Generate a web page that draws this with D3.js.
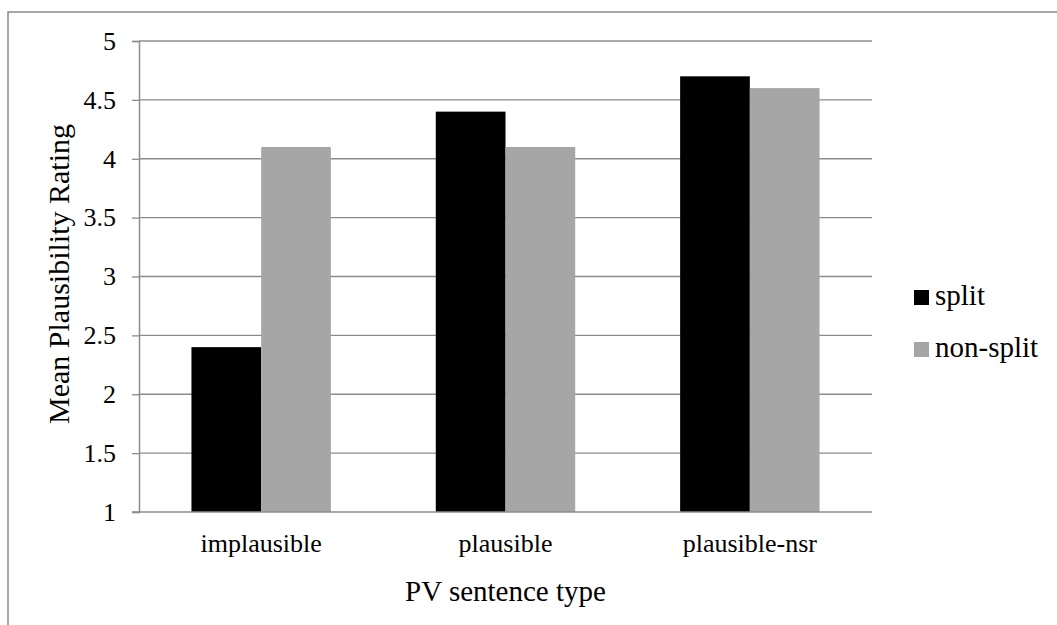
<!DOCTYPE html>
<html>
<head>
<meta charset="utf-8">
<script src="https://cdn.jsdelivr.net/npm/d3@7"></script>
<style>
  body { margin: 0; background: #fff; }
  text { font-family: "Liberation Serif", "Times New Roman", serif; fill: #000; }
</style>
</head>
<body>
<div id="chart-area"></div>
<script>
// data
var categories = ["implausible", "plausible", "plausible-nsr"];
var series = ["split", "non-split"];
var splitVals = [2.4, 4.4, 4.7];
var nonSplitVals = [4.1, 4.1, 4.6];
var yTicks = [1, 1.5, 2, 2.5, 3, 3.5, 4, 4.5, 5];
var colors = ["#000000", "#a6a6a6"];

var W = 1057, H = 625;
var plotL = 139, plotR = 872, plotT = 41, plotB = 512;

var svg = d3.select("#chart-area")
    .append("svg")
    .attr("width", W)
    .attr("height", H);

// outer chart border (runs off right and bottom edges)
svg.append("rect")
    .attr("x", 8)
    .attr("y", 12)
    .attr("width", W + 20)
    .attr("height", H + 20)
    .attr("fill", "none")
    .attr("stroke", "#8a8a8a")
    .attr("stroke-width", 1.5);

var data = categories.map(function (c, i) {
    return { cat: c, values: [splitVals[i], nonSplitVals[i]] };
});

var x0 = d3.scaleBand()
    .domain(categories)
    .range([plotL, plotR]);

var x1 = d3.scaleBand()
    .domain(series)
    .range([0, x0.bandwidth()])
    .paddingInner(0)
    .paddingOuter(0.7525);

var y = d3.scaleLinear()
    .domain([1, 5])
    .range([plotB, plotT]);

// gridlines
svg.append("g")
    .selectAll("line")
    .data(yTicks.slice(1))
    .enter()
    .append("line")
    .attr("x1", plotL)
    .attr("x2", plotR)
    .attr("y1", function (d) { return y(d); })
    .attr("y2", function (d) { return y(d); })
    .attr("stroke", "#8c8c8c")
    .attr("stroke-width", 1.3);

// bars
var groups = svg.append("g")
    .selectAll("g")
    .data(data)
    .enter()
    .append("g")
    .attr("transform", function (d) { return "translate(" + x0(d.cat) + ",0)"; });

groups.selectAll("rect")
    .data(function (d) { return d.values.map(function (v, i) { return { s: series[i], v: v, i: i }; }); })
    .enter()
    .append("rect")
    .attr("x", function (d) { return x1(d.s); })
    .attr("y", function (d) { return y(d.v); })
    .attr("width", x1.bandwidth())
    .attr("height", function (d) { return y(1) - y(d.v); })
    .attr("fill", function (d) { return colors[d.i]; });

// y axis
var leftAxis = d3.axisLeft(y)
    .tickValues(yTicks)
    .tickSize(7)
    .tickPadding(16)
    .tickFormat(d3.format(""));

var yG = svg.append("g")
    .attr("transform", "translate(" + plotL + ",0)")
    .call(leftAxis);
yG.select(".domain").attr("stroke", "#8c8c8c").attr("stroke-width", 1.5);
yG.selectAll(".tick line").attr("stroke", "#8c8c8c").attr("stroke-width", 1.3);
yG.selectAll("text")
    .attr("font-size", "26px")
    .attr("font-family", "Liberation Serif")
    .attr("fill", "#000");

// x axis
var bottomAxis = d3.axisBottom(x0)
    .tickSize(0)
    .tickPadding(22);

var xG = svg.append("g")
    .attr("transform", "translate(0," + plotB + ")")
    .call(bottomAxis);
xG.select(".domain").remove();
xG.append("line")
    .attr("x1", plotL - 7)
    .attr("x2", plotR)
    .attr("stroke", "#8c8c8c")
    .attr("stroke-width", 1.5);
xG.selectAll("text")
    .attr("font-size", "26px")
    .attr("font-family", "Liberation Serif")
    .attr("fill", "#000");

// axis titles
svg.append("text")
    .attr("x", (plotL + plotR) / 2)
    .attr("y", 601)
    .attr("font-size", "29px")
    .attr("text-anchor", "middle")
    .text("PV sentence type");

svg.append("text")
    .attr("transform", "translate(69," + 274 + ") rotate(-90)")
    .attr("font-size", "30px")
    .attr("text-anchor", "middle")
    .text("Mean Plausibility Rating");

// legend
var legend = svg.append("g")
    .selectAll("g")
    .data(series)
    .enter()
    .append("g")
    .attr("transform", function (d, i) { return "translate(914," + (290 + i * 52) + ")"; });

legend.append("rect")
    .attr("width", 15)
    .attr("height", 15)
    .attr("fill", function (d, i) { return colors[i]; });

legend.append("text")
    .attr("x", 21)
    .attr("y", 15)
    .attr("font-size", "29px")
    .text(function (d) { return d; });
</script>
</body>
</html>
